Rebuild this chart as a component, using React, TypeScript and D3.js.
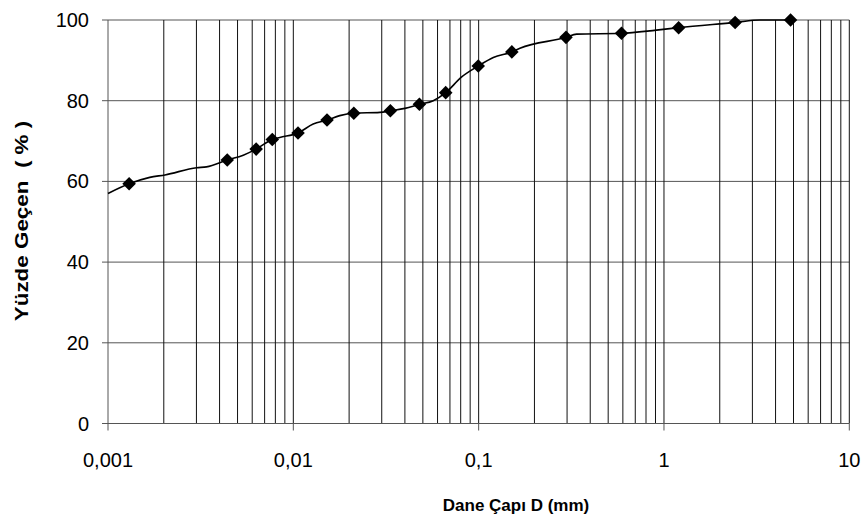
import React from "react";
import * as d3 from "d3";

// Marker points (grain size mm, percent passing)
const sizes = [0.0013, 0.0044, 0.0063, 0.0077, 0.0106, 0.0152, 0.0212, 0.0334, 0.0479, 0.0664, 0.0995, 0.151, 0.296, 0.59, 1.2, 2.42, 4.82];
const passing = [59.4, 65.3, 68.0, 70.4, 72.0, 75.2, 76.9, 77.5, 79.1, 82.0, 88.6, 92.1, 95.7, 96.7, 98.1, 99.4, 100];

// Extra points of the drawn curve (no markers)
const curveSizes = [0.001, 0.00168, 0.00203, 0.00301, 0.0034, 0.00537, 0.00845, 0.0128, 0.0178, 0.0293, 0.04, 0.0569, 0.081, 0.12, 0.167, 0.338, 0.91, 3.3];
const curvePassing = [57.0, 61.0, 61.6, 63.4, 63.6, 66.5, 70.9, 74.2, 76.3, 77.1, 78.1, 80.0, 85.9, 90.7, 93.0, 96.5, 97.5, 100];

const xTickValues = [0.001, 0.01, 0.1, 1, 10];
const xTickLabels = ["0,001", "0,01", "0,1", "1", "10"];
const yTickValues = [0, 20, 40, 60, 80, 100];

const W = 868;
const H = 519;
const left = 108;
const right = 849.3;
const top = 20;
const bottom = 423.5;

const FONT = "'Liberation Sans', Arial, Helvetica, sans-serif";

export default function App() {
  const x = d3.scaleLog().domain([0.001, 10]).range([left, right]);
  const y = d3.scaleLinear().domain([0, 100]).range([bottom, top]);

  const minor: number[] = [];
  for (let e = -3; e <= 0; e++) {
    for (let m = 1; m <= 9; m++) {
      const v = m * Math.pow(10, e);
      if (v > 0.001) minor.push(v);
    }
  }
  minor.push(10);

  const pts = sizes.map((s, i) => [s, passing[i]] as [number, number])
    .concat(curveSizes.map((s, i) => [s, curvePassing[i]] as [number, number]))
    .sort((a, b) => a[0] - b[0]);

  const line = d3.line<[number, number]>()
    .x((d) => x(d[0]))
    .y((d) => y(d[1]))
    .curve(d3.curveMonotoneX);

  const diamond = d3.symbol().type(d3.symbolSquare).size(92)() as string;

  return (
    <svg width={W} height={H} style={{ position: "absolute", left: 0, top: 0, background: "#fff" }}>
      <rect x={0} y={0} width={W} height={H} fill="#fff" />
      {/* horizontal gridlines */}
      {yTickValues.filter((v) => v > 0).map((v) => (
        <line key={"h" + v} x1={left} x2={right} y1={y(v)} y2={y(v)} stroke="#555" strokeWidth={1} />
      ))}
      {/* vertical gridlines */}
      {minor.map((v, i) => (
        <line key={"v" + i} x1={x(v)} x2={x(v)} y1={top} y2={bottom} stroke="#111" strokeWidth={1} />
      ))}
      {/* axes */}
      <line x1={left} x2={left} y1={top} y2={bottom} stroke="#555" strokeWidth={1} />
      <line x1={left} x2={right} y1={bottom} y2={bottom} stroke="#555" strokeWidth={1} />
      {yTickValues.map((v) => (
        <line key={"yt" + v} x1={left - 6} x2={left} y1={y(v)} y2={y(v)} stroke="#555" strokeWidth={1} />
      ))}
      {xTickValues.map((v) => (
        <line key={"xt" + v} x1={x(v)} x2={x(v)} y1={bottom} y2={bottom + 7} stroke="#555" strokeWidth={1} />
      ))}
      {/* tick labels */}
      {yTickValues.map((v) => (
        <text key={"yl" + v} x={89} y={y(v)} dy="0.35em" textAnchor="end" fontFamily={FONT} fontSize={20} fill="#000">
          {v}
        </text>
      ))}
      {xTickValues.map((v, i) => (
        <text key={"xl" + v} x={x(v)} y={467} textAnchor="middle" fontFamily={FONT} fontSize={20} fill="#000">
          {xTickLabels[i]}
        </text>
      ))}
      {/* curve */}
      <path d={line(pts) || ""} fill="none" stroke="#000" strokeWidth={1.6} />
      {sizes.map((s, i) => (
        <path key={"m" + i} d={diamond} transform={`translate(${x(s)},${y(passing[i])}) rotate(45)`} fill="#000" />
      ))}
      {/* axis titles */}
      <text x={516} y={511} textAnchor="middle" fontFamily={FONT} fontSize={17} fontWeight="bold" fill="#000">
        Dane Çapı D (mm)
      </text>
      <text
        transform={`translate(28,221) rotate(-90) scale(1.18,1)`}
        textAnchor="middle"
        fontFamily={FONT}
        fontSize={19}
        fontWeight="bold"
        fill="#000"
        style={{ whiteSpace: "pre" }}
      >
        {"Yüzde Geçen  ( % )"}
      </text>
    </svg>
  );
}
